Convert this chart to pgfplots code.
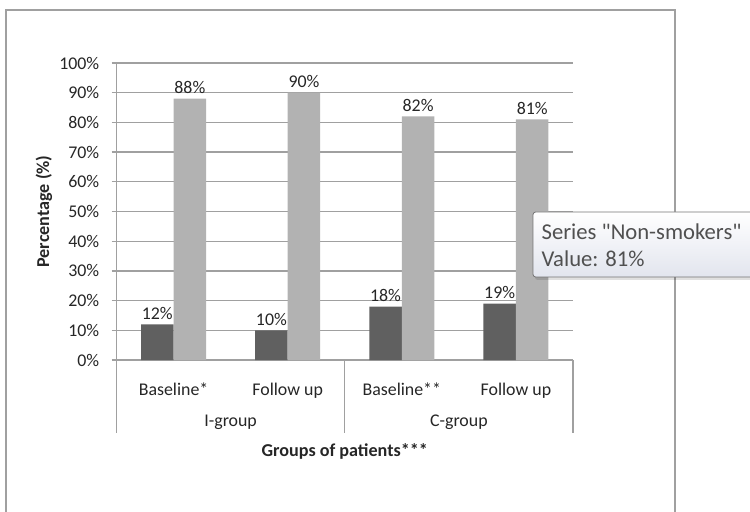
\documentclass[border=0pt]{standalone}
\usepackage{fontspec}
\setmainfont{Carlito}
\usepackage{pgfplots}
\pgfplotsset{compat=1.18}

\definecolor{smk}{HTML}{606060}
\definecolor{nonsmk}{HTML}{B2B2B2}
\definecolor{gridc}{HTML}{A0A0A0}
\definecolor{txt}{HTML}{262626}
\definecolor{tipbot}{HTML}{E2E5EE}
\definecolor{tipedge}{HTML}{767676}
\definecolor{tiptxt}{HTML}{505050}

\newcommand{\lbl}{\fontsize{13.4}{15}\selectfont}

\begin{document}
\begin{tikzpicture}
% 1px = 0.75pt, origin at bottom-left of the 750x511 image
\begin{axis}[
    at={(87.375pt,113.25pt)}, anchor=south west,
    scale only axis,
    width=342.375pt, height=222.75pt,
    ybar, bar width=24.4pt,
    xmin=-0.5, xmax=3.5,
    ymin=0, ymax=100,
    xtick={0,1,2,3},
    xticklabels={Baseline*, Follow up, Baseline**, Follow up},
    ytick={0,10,...,100},
    yticklabel={\pgfmathprintnumber{\tick}\%},
    /pgf/number format/assume math mode=true,
    axis lines*=left,
    axis line style={gridc, line width=0.9pt},
    ymajorgrids,
    major grid style={gridc, line width=0.9pt},
    x tick style={draw=none},
    y tick style={gridc, line width=0.9pt},
    tick align=outside,
    major tick length=3.75pt,
    tick label style={font=\lbl, text=txt},
    yticklabel style={anchor=east, inner sep=0pt, xshift=-9pt},
    xticklabel style={anchor=north, inner sep=0pt, yshift=-13pt},
    xlabel={Groups of patients***},
    xlabel style={at={(axis description cs:0.5,0)}, anchor=north, yshift=-59pt,
        font=\fontsize{13.6}{15}\selectfont\bfseries, text=txt},
    ylabel={Percentage (\%)},
    ylabel style={at={(axis description cs:0,0.5)}, anchor=center, yshift=54.4pt,
        font=\fontsize{13.6}{15}\selectfont\bfseries, text=txt},
    nodes near coords={\pgfmathprintnumber{\pgfplotspointmeta}\%},
    every node near coord/.append style={font=\lbl, text=txt},
    clip=false,
]
% Smokers
\addplot[draw=none, fill=smk, bar shift=-12.2pt] coordinates {
    (0,12) (1,10) (2,18) (3,19)
};
% Non-smokers
\addplot[draw=none, fill=nonsmk, bar shift=12.2pt] coordinates {
    (0,88) (1,90) (2,82) (3,81)
};
% group separators below the axis
\draw[gridc, line width=0.9pt] (axis cs:-0.5,0) -- ++(0pt,-54.4pt);
\draw[gridc, line width=0.9pt] (axis cs:1.5,0) -- ++(0pt,-54.4pt);
\draw[gridc, line width=0.9pt] (axis cs:3.5,0) -- ++(0pt,-54.4pt);
\node[anchor=north, inner sep=0pt, font=\lbl, text=txt]
    at ([yshift=-41pt]axis cs:0.5,0) {I-group};
\node[anchor=north, inner sep=0pt, font=\lbl, text=txt]
    at ([yshift=-41pt]axis cs:2.5,0) {C-group};
\end{axis}
% chart frame
\draw[gridc, line width=1.4pt] (4.5pt,-10pt) -- (4.5pt,375.75pt) -- (506.25pt,375.75pt) -- (506.25pt,-10pt);
% tooltip
\fill[black, opacity=0.12, rounded corners=2pt] (401.25pt,222.75pt) rectangle (580pt,173.25pt);
\shade[top color=white, bottom color=tipbot, rounded corners=2pt]
    (399.75pt,224.25pt) rectangle (578pt,175.5pt);
\draw[tipedge, rounded corners=2pt, line width=0.6pt]
    (399.75pt,224.25pt) rectangle (578pt,175.5pt);
\node[anchor=west, inner sep=0pt, font=\fontsize{17}{19}\selectfont, text=tiptxt]
    at (406pt,209.25pt) {Series \textquotedbl Non-smokers\textquotedbl};
\node[anchor=west, inner sep=0pt, font=\fontsize{17}{19}\selectfont, text=tiptxt]
    at (406pt,189pt) {Value: 81\%};
\pgfresetboundingbox
\useasboundingbox (0,0) rectangle (562.5pt,383.25pt);
\end{tikzpicture}
\end{document}
